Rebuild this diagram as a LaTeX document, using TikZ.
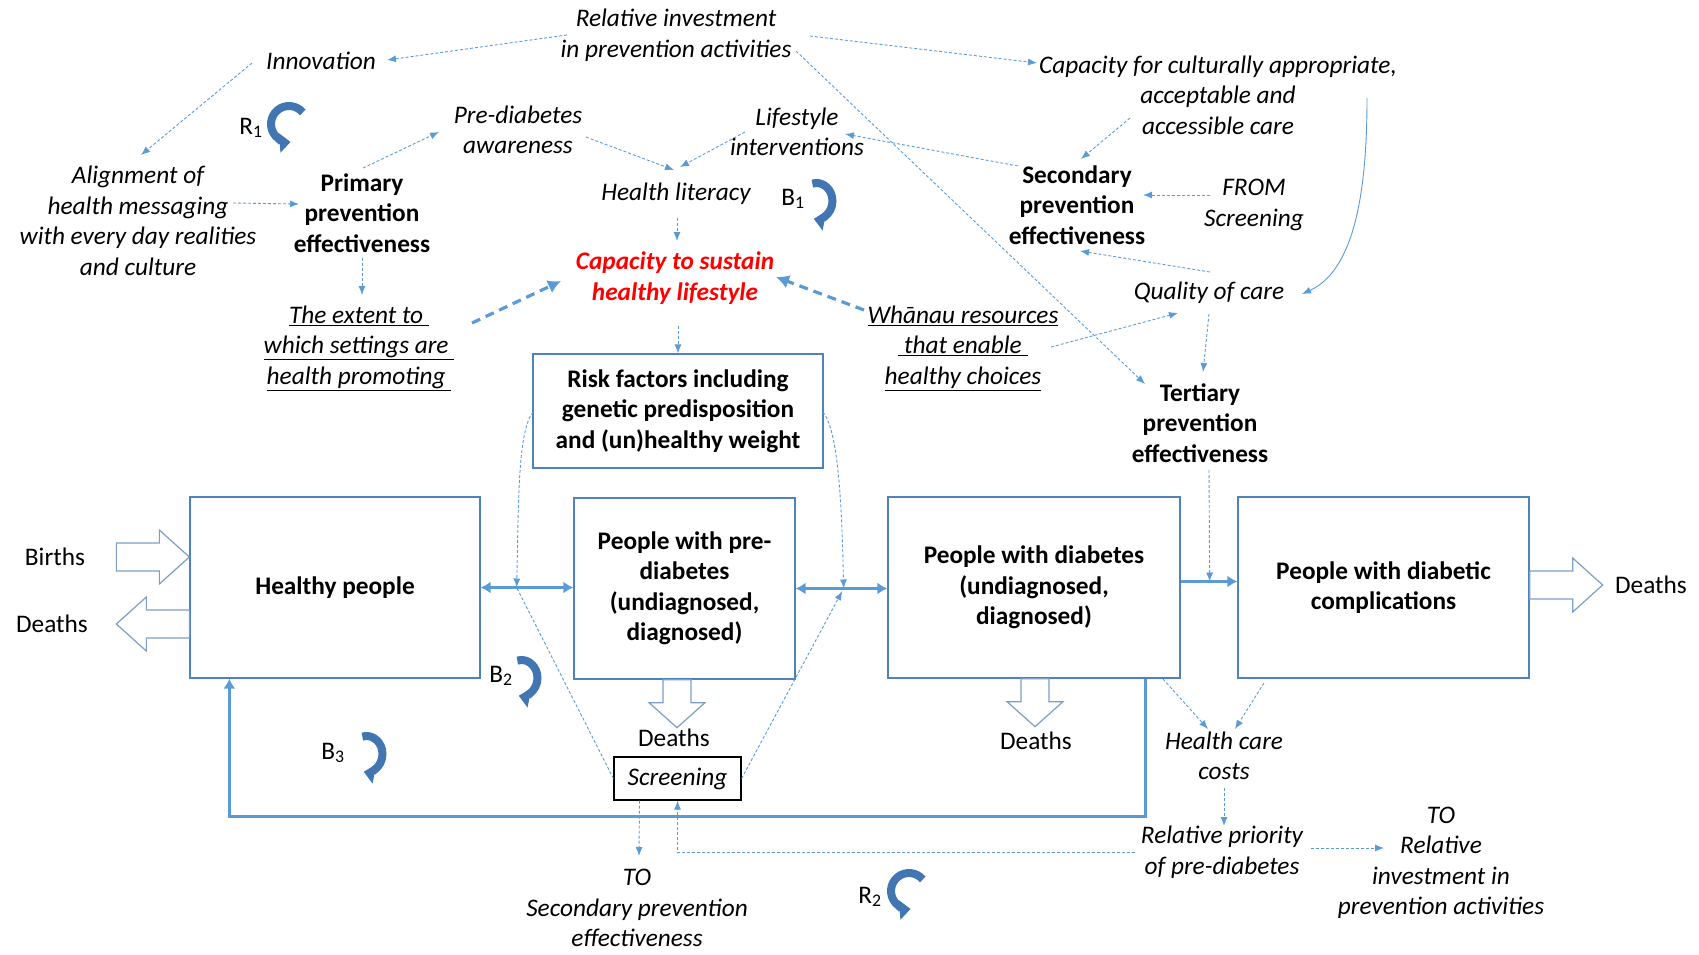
\documentclass[tikz,border=0pt]{standalone}
\usepackage{fontspec}
\setmainfont{Carlito}
\usetikzlibrary{arrows.meta,calc}
\definecolor{boxc}{RGB}{79,129,189}
\definecolor{lnc}{RGB}{91,155,213}
\definecolor{blkc}{RGB}{125,158,200}
\definecolor{loopc}{RGB}{66,118,178}
\newcommand{\fsz}{\fontsize{25.3}{30.5}\selectfont}
\begin{document}
\begin{tikzpicture}[x=1pt,y=-1pt,
  txt/.style={font=\fsz, align=center, inner sep=1pt},
  var/.style={txt, font=\fsz\itshape},
  bvar/.style={txt, font=\fsz\bfseries},
  capst/.style={txt, font=\fsz\bfseries\itshape, text=red},
  stock/.style={draw=boxc, line width=1.3pt, minimum height=181pt, txt, font=\fsz\bfseries},
  riskst/.style={draw=boxc, line width=1.3pt, minimum width=290pt, minimum height=114pt, txt, font=\fsz\bfseries},
  scr/.style={draw=black, line width=1.2pt, minimum width=127pt, minimum height=43pt, var},
  dl/.style={draw=lnc, line width=0.9pt, dash pattern=on 3pt off 2pt, -{Latex[length=9pt,width=7pt]}},
  dlnone/.style={draw=lnc, line width=0.9pt, dash pattern=on 3pt off 2pt},
  tdl/.style={draw=lnc, line width=3.2pt, dash pattern=on 9pt off 6pt, -{Latex[length=13pt,width=14pt]}},
  flow/.style={draw=lnc, line width=3.2pt, {Latex[length=10pt,width=12pt]}-{Latex[length=10pt,width=12pt]}},
  flowone/.style={draw=lnc, line width=3.2pt, -{Latex[length=10pt,width=12pt]}},
  blk/.style={draw=blkc, line width=1.2pt, fill=white, line join=miter},
  hblk/.pic={\draw[blk] (0,-14) -- (43,-14) -- (43,-27) -- (73,0) -- (43,27) -- (43,14) -- (0,14) -- cycle;},
  vblk/.pic={\draw[blk] (0,-14) -- (23,-14) -- (23,-28) -- (48,0) -- (23,28) -- (23,14) -- (0,14) -- cycle;},
  bloop/.pic={\draw[loopc, line width=8pt, -{Triangle[length=11pt,width=19pt]}] (-105:18) arc[start angle=-105, end angle=100, x radius=16, y radius=18];},
  rloop/.pic={\draw[loopc, line width=8pt, -{Triangle[length=11pt,width=19pt]}] (-40:18) arc[start angle=-40, end angle=-275, x radius=18, y radius=18];}
]
\useasboundingbox (0,0) rectangle (1699,954);

% ---------- text variables ----------
\node[var] (ri) at (676,35) {Relative investment\\in prevention activities};
\node[var] (innov) at (321,61) {Innovation};
\node[var] (align) at (138,221) {Alignment of\\health messaging\\with every day realities\\and culture};
\node[bvar] (primary) at (362,213) {Primary\\prevention\\effectiveness};
\node[var] (pda) at (518,130) {Pre-diabetes\\awareness};
\node[var] (life) at (797,132) {Lifestyle\\interventions};
\node[var] (hl) at (676,194) {Health literacy};
\node[capst] (cap) at (675,278) {Capacity to sustain\\healthy lifestyle};
\node[var] (extent) at (359,348) {\underline{The extent to }\\\underline{which settings are }\\\underline{health promoting }};
\node[var] (whanau) at (963,348) {\underline{Whānau resources}\\\underline{ that enable }\\\underline{healthy choices}};
\node[riskst] (risk) at (678,411) {Risk factors including\\genetic predisposition\\and (un)healthy weight};
\node[var] (ccare) at (1218,95) {Capacity for culturally appropriate,\\acceptable and\\accessible care};
\node[bvar] (sec) at (1077,205) {Secondary\\prevention\\effectiveness};
\node[var] (from) at (1254,205) {FROM\\Screening};
\node[var] (qual) at (1209,293) {Quality of care};
\node[bvar] (tert) at (1200,423) {Tertiary\\prevention\\effectiveness};

% ---------- stocks ----------
\node[stock, minimum width=290pt] (healthy) at (335,587.5) {Healthy people};
\node[stock, minimum width=221pt] (pre) at (684.5,588.5) {People with pre-\\diabetes\\(undiagnosed,\\diagnosed)};
\node[stock, minimum width=292pt] (dia) at (1034,587.5) {People with diabetes\\(undiagnosed,\\diagnosed)};
\node[stock, minimum width=291pt] (comp) at (1383.5,587.5) {People with diabetic\\complications};

% ---------- in/out flows ----------
\pic at ($(healthy.west)+(-73,-30.5)$) {hblk};
\pic[rotate=180] at ($(healthy.west)+(0,36.5)$) {hblk};
\pic at ($(comp.east)+(0,-2.5)$) {hblk};
\pic[rotate=-90] at ($(pre.south)+(-7.5,0)$) {vblk};
\pic[rotate=-90] at ($(dia.south)+(1,0)$) {vblk};
\node[txt] (births) at (55,557) {Births};
\node[txt] (deathsL) at (52,624) {Deaths};
\node[txt] (deathsR) at (1651,585) {Deaths};
\node[txt] (deathsP) at (674,738) {Deaths};
\node[txt] (deathsD) at (1036,741) {Deaths};

% ---------- lower variables ----------
\node[scr] (screen) at (677.5,778.5) {Screening};
\node[var] (toSec) at (637,908) {TO\\Secondary prevention\\effectiveness};
\node[var] (hcc) at (1224,756) {Health care\\costs};
\node[var] (rp) at (1222,852) {Relative priority\\of pre-diabetes};
\node[var] (toRI) at (1441,863) {TO\\Relative\\investment in\\prevention activities};

% ---------- loop markers ----------
\node[txt] (r1) at (251,128) {R\textsubscript{1}};
\pic at (289,124) {rloop};
\node[txt] (b1) at (793,199) {B\textsubscript{1}};
\pic at (817,201) {bloop};
\node[txt] (b2) at (501,676) {B\textsubscript{2}};
\pic at (522,678) {bloop};
\node[txt] (b3) at (333,753) {B\textsubscript{3}};
\pic at (367,754) {bloop};
\node[txt] (r2) at (870,897) {R\textsubscript{2}};
\pic at (909,891) {rloop};

% ---------- junction points ----------
\coordinate (j1) at ($(healthy.east)+(36,0)$);
\coordinate (j2) at ($(pre.east)+(48,0)$);
\coordinate (j3) at ($(dia.east)+(29,-6)$);
\coordinate (d3) at ($(dia.east)+(0,-6)$);
\coordinate (loopstart) at ($(dia.south east)+(-35,0)$);
\coordinate (loopend) at ($(healthy.south west)+(40,0)$);

% ---------- material flows ----------
\draw[flow] (healthy.east) -- (healthy.east -| pre.west);
\draw[flow] (pre.east) -- (pre.east -| dia.west);
\draw[flowone] (d3) -- (d3 -| comp.west);
\draw[flowone] (loopstart) -- ++(0,138) -| (loopend);

% ---------- causal links ----------
\draw[dl] ($(ri)+(-109,0)$) -- ($(innov)+(66,-1)$);
\draw[dl] ($(ri)+(134,1)$) -- ($(ccare)+(-181,-32)$);
\draw[dl] ($(ri)+(120,16)$) -- ($(tert)+(-55,-39)$);
\draw[dl] ($(innov)+(-69,2)$) -- ($(align)+(3,-66)$);
\draw[dl] ($(align)+(95,-18)$) -- ($(primary)+(-63,-9)$);
\draw[dl] ($(primary)+(1,-45)$) -- ($(pda)+(-79,2)$);
\draw[dl] ($(pda)+(68,7)$) -- ($(hl)+(-2,-24)$);
\draw[dl] ($(life)+(-52,0)$) -- ($(hl)+(4,-27)$);
\draw[dl] ($(hl)+(1,24)$) -- ($(cap)+(2,-37)$);
\draw[dl] ($(cap)+(3,48)$) -- (risk.north);
\draw[dl] ($(primary)+(0,45)$) -- ($(extent)+(3,-53)$);
\draw[tdl] ($(extent)+(113,-25)$) -- ($(cap)+(-114,3)$);
\draw[tdl] ($(whanau)+(-99,-38)$) -- ($(cap)+(101,-1)$);
\draw[dl] ($(whanau)+(88,-1)$) -- ($(qual)+(-31,20)$);
\draw[dl] ($(sec)+(-59,-39)$) -- ($(life)+(48,2)$);
\draw[dl] ($(ccare)+(-88,23)$) -- ($(sec)+(4,-46)$);
\draw[dl] ($(from)+(-44,-10)$) -- ($(sec)+(66,-10)$);
\draw[dl] ($(qual)+(1,-21)$) -- ($(sec)+(3,46)$);
\draw[draw=lnc, line width=0.9pt, -{Latex[length=9pt,width=7pt]}] ($(ccare)+(149,3)$) .. controls (1367,190) and (1355,270) .. ($(qual)+(93,1)$);
\draw[dl] ($(qual)+(0,21)$) -- ($(tert)+(3,-51)$);
\draw[dl] ($(tert)+(9,47)$) -- (j3);
\draw[dl] ($(risk)+(-145,1)$) .. controls ($(risk)+(-160,20)$) and ($(j1)+(2,-90)$) .. (j1);
\draw[dl] ($(risk)+(145,1)$) .. controls ($(risk)+(160,20)$) and ($(j2)+(-2,-90)$) .. (j2);
\draw[dlnone] (screen.west) -- (j1);
\draw[dl, shorten >=3pt] (screen.east) -- (j2);
\draw[dl] ($(screen)+(-38,22)$) -- ($(toSec)+(2,-52)$);
\draw[dl] ($(rp)+(-87,0)$) -| (screen.south);
\draw[dl] ($(dia)+(129,91.5)$) -- ($(hcc)+(-16,-27)$);
\draw[dl] ($(comp)+(-119.5,95.5)$) -- ($(hcc)+(11,-27)$);
\draw[dl] ($(hcc)+(0,32)$) -- ($(rp)+(2,-26)$);
\draw[dl] ($(rp)+(89,-4)$) -- ($(toRI)+(-57,-15)$);
\end{tikzpicture}
\end{document}
